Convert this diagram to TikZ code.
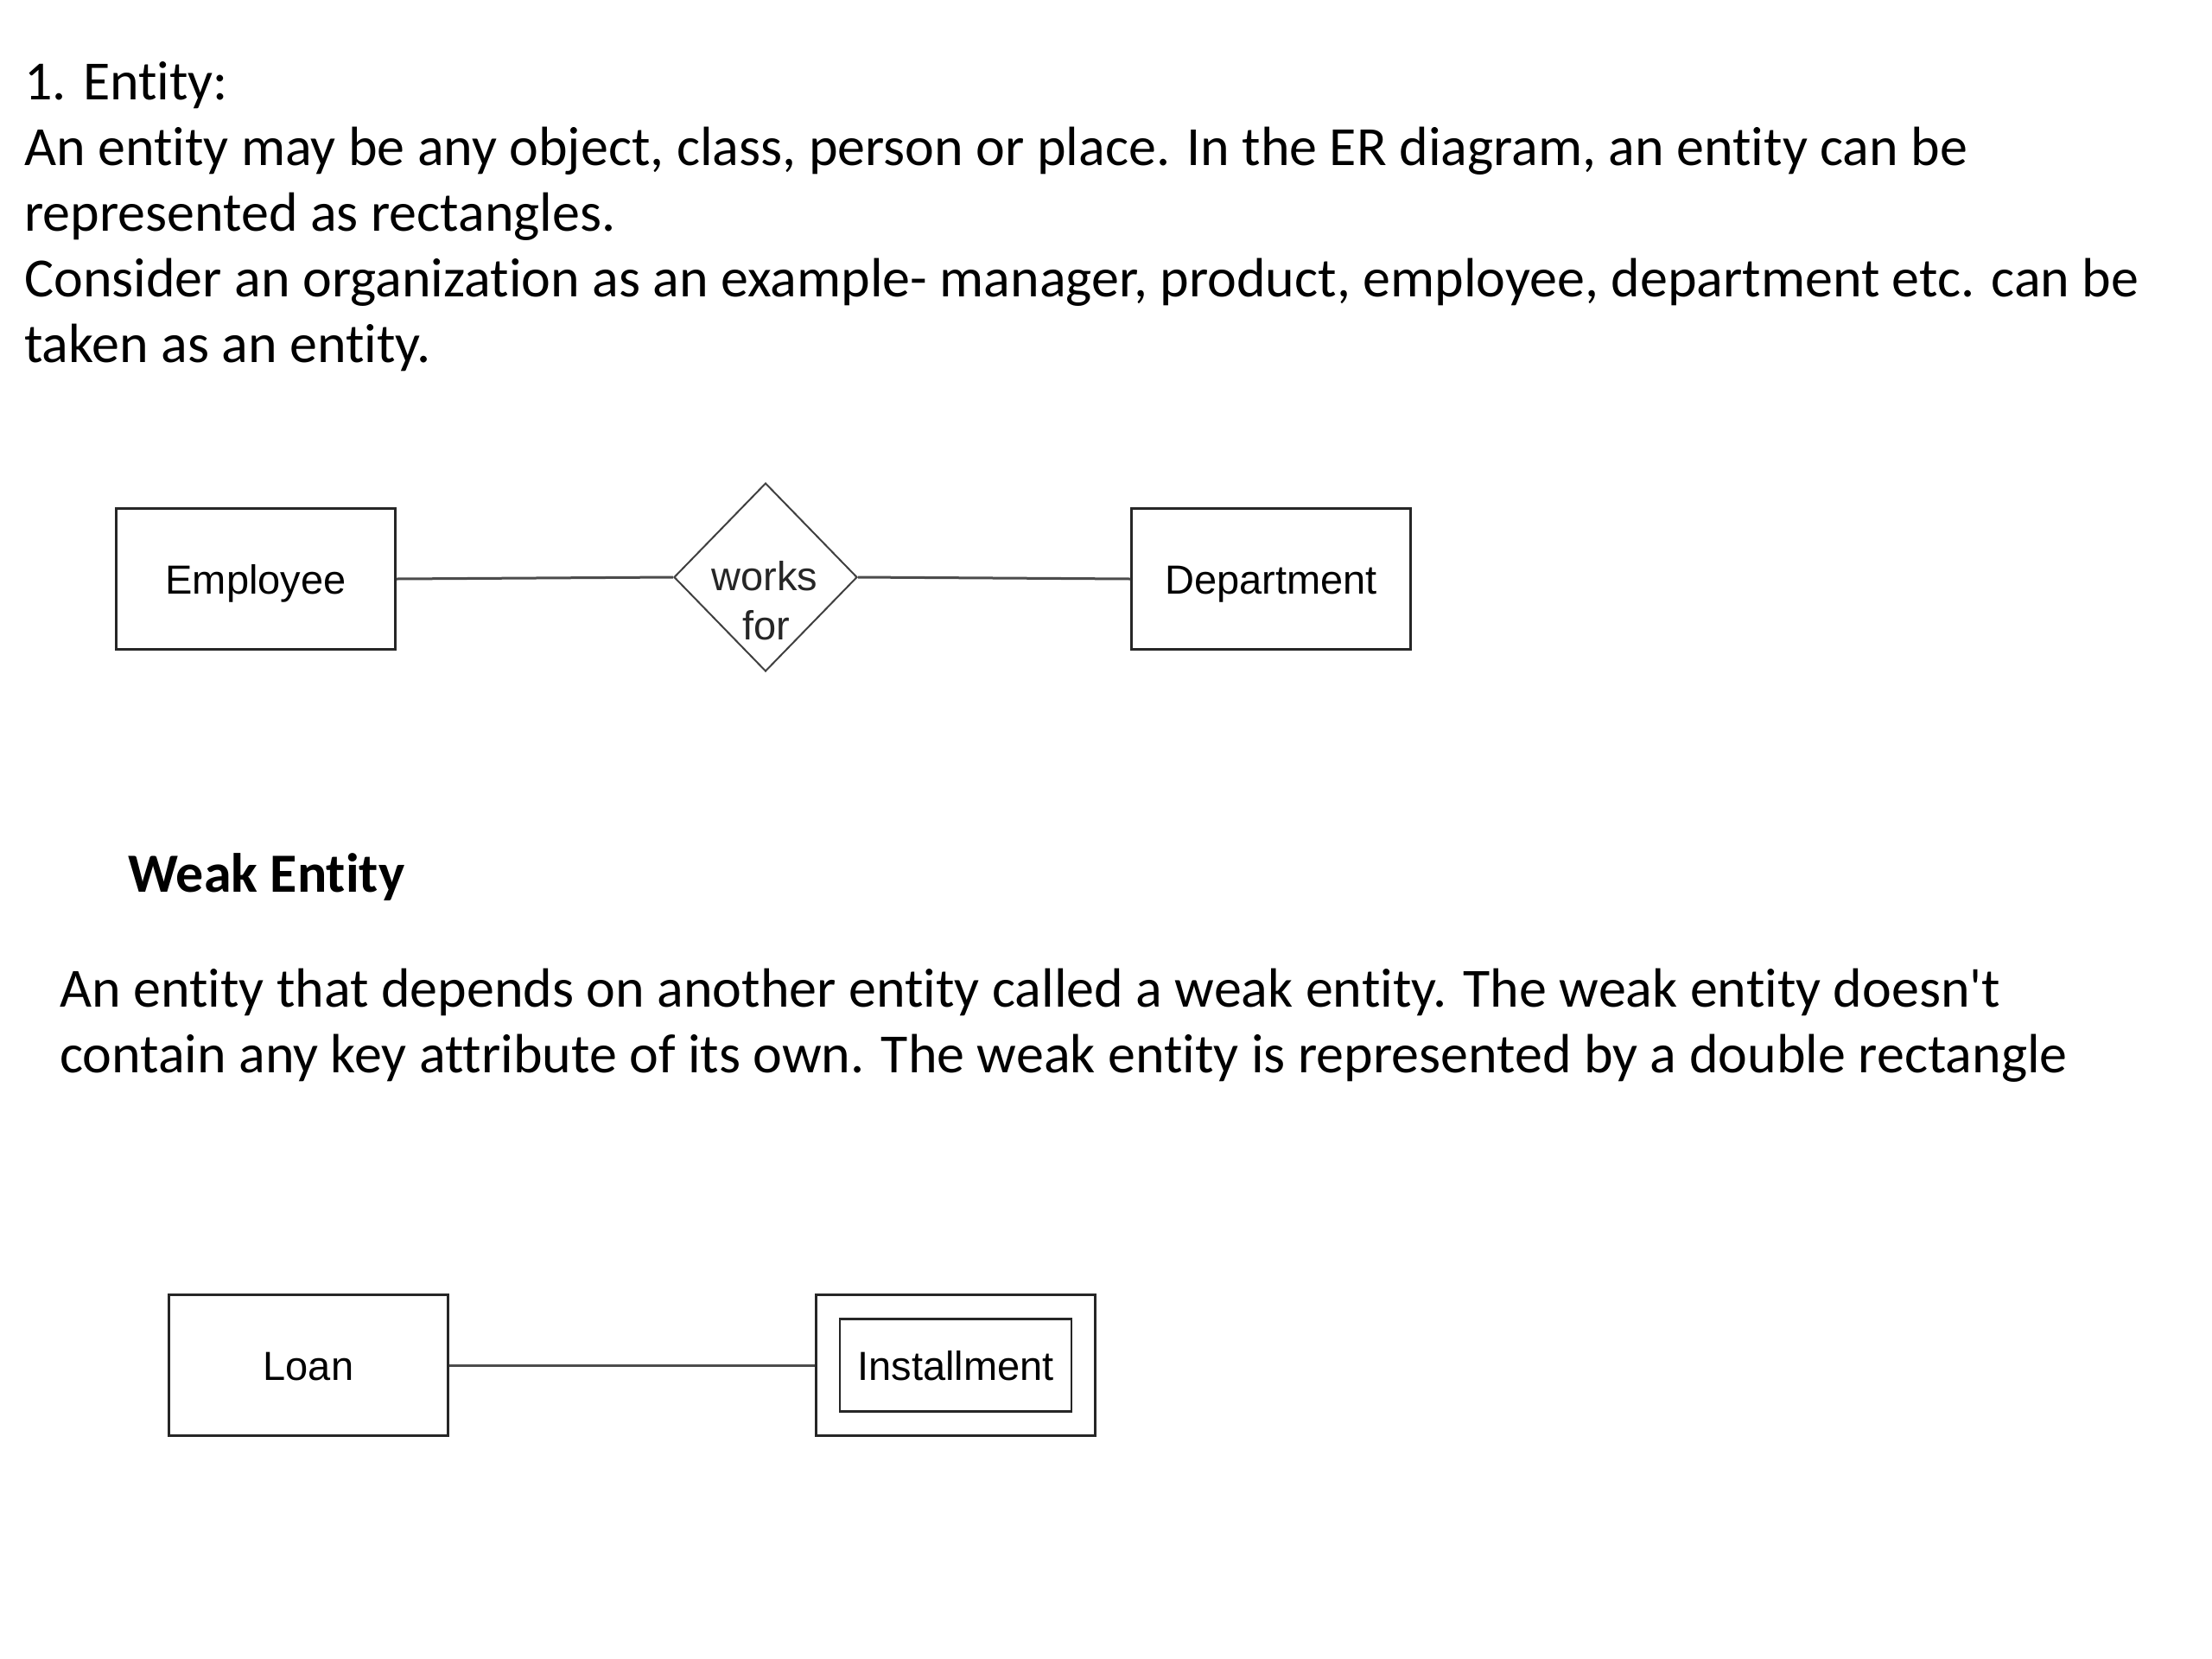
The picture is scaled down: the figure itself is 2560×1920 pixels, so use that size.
\documentclass[tikz,border=0pt]{standalone}
\usepackage{fontspec}
\setmainfont{Carlito}[Ligatures={TeX,NoCommon}]
\newfontfamily\diafont{Liberation Sans}
\usetikzlibrary{shapes.geometric}
\begin{document}
\begin{tikzpicture}[x=1pt,y=-1pt,
  txt/.style={anchor=base west, inner sep=0pt, font=\fontsize{64}{76}\selectfont},
  head/.style={anchor=base west, inner sep=0pt, font=\fontsize{64}{76}\selectfont\bfseries},
  ent/.style={draw=black!85, line width=2.5pt, minimum width=323pt, minimum height=163pt,
    inner sep=0pt, text height=34pt, text depth=0pt, font=\diafont\fontsize{47}{56}\selectfont},
  inent/.style={draw=black!85, line width=2.5pt, minimum width=268pt, minimum height=107pt,
    inner sep=0pt, text height=34pt, text depth=0pt, font=\diafont\fontsize{47}{56}\selectfont},
  rel/.style={diamond, draw=black!75, line width=2pt, minimum width=212pt, minimum height=218pt, inner sep=0pt},
  rlab/.style={anchor=base, inner sep=0pt, font=\diafont\fontsize{47}{56}\selectfont, text=black!85},
  conn/.style={draw=black!70, line width=3pt}]
\useasboundingbox[fill=white] (0,0) rectangle (2560,1920);

% paragraph 1
\node[txt] (t1) at (28,115) {1. Entity:};
\node[txt] (t2) at (28,191) {An entity may be any object, class, person or place. In the ER diagram, an entity can be};
\node[txt] (t3) at (28,267) {represented as rectangles.};
\node[txt] (t4) at (28,343) {Consider an organization as an example- manager, product, employee, department etc. can be};
\node[txt] (t5) at (28,419) {taken as an entity.};

% first diagram
\node[ent] (emp) at (296,670) {Employee};
\node[rel] (wf) at (886,668) {};
\node[rlab] (wf1) at (885,683) {works};
\node[rlab] (wf2) at (887,740) {for};
\node[ent] (dep) at (1471,670) {Department};
\draw[conn] (emp.east) -- (wf.west);
\draw[conn] (wf.east) -- (dep.west);

% weak entity
\node[head] (h) at (148,1032) {Weak Entity};
\node[txt] (w1) at (69,1165) {An entity that depends on another entity called a weak entity. The weak entity doesn\textquotesingle t};
\node[txt] (w2) at (69,1241) {contain any key attribute of its own. The weak entity is represented by a double rectangle};

% second diagram
\node[ent] (loan) at (357,1580) {Loan};
\node[ent] (instout) at (1106,1580) {};
\node[inent] (inst) at (1106,1580) {Installment};
\draw[conn] (loan.east) -- (instout.west);
\end{tikzpicture}
\end{document}
